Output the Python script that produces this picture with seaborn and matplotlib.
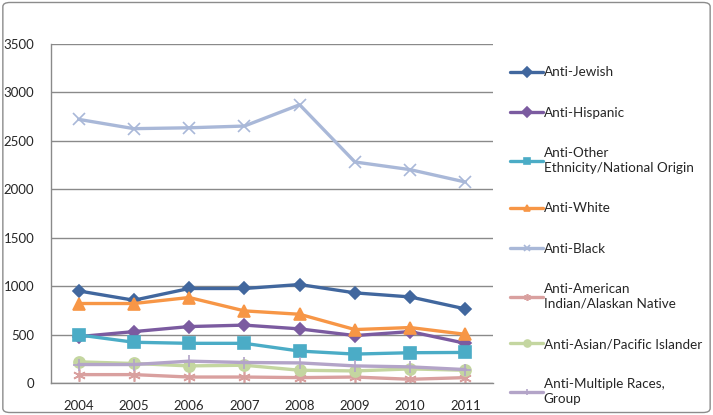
import pandas as pd
import matplotlib.pyplot as plt
import seaborn as sns
from matplotlib.patches import FancyBboxPatch
from matplotlib.ticker import MultipleLocator

# data
years = [2004, 2005, 2006, 2007, 2008, 2009, 2010, 2011]
anti_jewish = [951, 855, 976, 976, 1017, 931, 889, 765]
anti_hispanic = [479, 531, 583, 598, 559, 490, 531, 410]
anti_other = [497, 421, 410, 410, 330, 299, 313, 316]
anti_white = [821, 821, 883, 745, 710, 552, 573, 503]
anti_black = [2722, 2626, 2635, 2653, 2873, 2282, 2203, 2075]
anti_amind = [87, 87, 62, 62, 56, 62, 39, 56]
anti_asian = [219, 202, 177, 184, 132, 125, 146, 132]
anti_multi = [191, 191, 226, 212, 208, 177, 167, 139]

labels = ['Anti-Jewish', 'Anti-Hispanic', 'Anti-Other\nEthnicity/National Origin',
          'Anti-White', 'Anti-Black', 'Anti-American\nIndian/Alaskan Native',
          'Anti-Asian/Pacific Islander', 'Anti-Multiple Races,\nGroup']
series = [anti_jewish, anti_hispanic, anti_other, anti_white,
          anti_black, anti_amind, anti_asian, anti_multi]
colors = ['#41679E', '#7B5BA0', '#4BACC6', '#F79646',
          '#A9B8D8', '#D9A09F', '#C4D6A0', '#B3A4C8']
markers = ['D', 'D', 's', '^', 'x', (6, 2, 0), 'o', '+']
msizes = [6.5, 6.5, 8, 8, 8, 9, 8, 9]

df = pd.DataFrame({
    'Year': years * len(labels),
    'Count': sum(series, []),
    'Type': [lab for lab in labels for _ in years],
})

sns.set_style('white')
plt.rcParams['font.family'] = ['Lato', 'DejaVu Sans']

fig = plt.figure(figsize=(7.13, 4.15), dpi=100)
ax = fig.add_axes([0.0715, 0.077, 0.62, 0.817])

for lab, col, mk, ms in zip(labels, colors, markers, msizes):
    sub = df[df['Type'] == lab]
    sns.lineplot(data=sub, x='Year', y='Count', ax=ax, color=col, marker=mk,
                 markersize=ms, markeredgecolor=col, markeredgewidth=1.2,
                 linewidth=2.4, label=lab)

ax.set_xlim(2003.5, 2011.5)
ax.set_ylim(0, 3500)
ax.set_xticks(years)
ax.set_xticklabels([str(y) for y in years])
ax.xaxis.set_minor_locator(MultipleLocator(1, offset=0.5))
ax.yaxis.set_major_locator(MultipleLocator(500))
ax.set_xlabel('')
ax.set_ylabel('')
ax.grid(axis='y', color='#8a8a8a', linewidth=1)
ax.set_axisbelow(True)
for s in ['top', 'right']:
    ax.spines[s].set_visible(False)
for s in ['left', 'bottom']:
    ax.spines[s].set_color('#8a8a8a')
    ax.spines[s].set_linewidth(1)
ax.tick_params(axis='x', which='major', length=0, pad=12, labelsize=9.5)
ax.tick_params(axis='x', which='minor', length=5, color='#8a8a8a', width=1)
ax.tick_params(axis='y', length=4, color='#8a8a8a', width=1, pad=8, labelsize=9.5)

leg = ax.legend(loc='upper left', bbox_to_anchor=(0.708, 0.853), bbox_transform=fig.transFigure,
                frameon=False, fontsize=9.7, labelspacing=2.1, handlelength=2.45,
                handletextpad=0.05, borderaxespad=0)
for h in leg.legend_handles:
    h.set_markersize(5)
for t in leg.get_texts():
    t.set_linespacing(1.3)

fig.patches.append(FancyBboxPatch((0.004, 0.006), 0.992, 0.988,
                                  boxstyle='round,pad=0,rounding_size=0.01',
                                  transform=fig.transFigure, fill=False,
                                  edgecolor='#8c8c8c', linewidth=1))

fig.savefig('out.png', dpi=100)
